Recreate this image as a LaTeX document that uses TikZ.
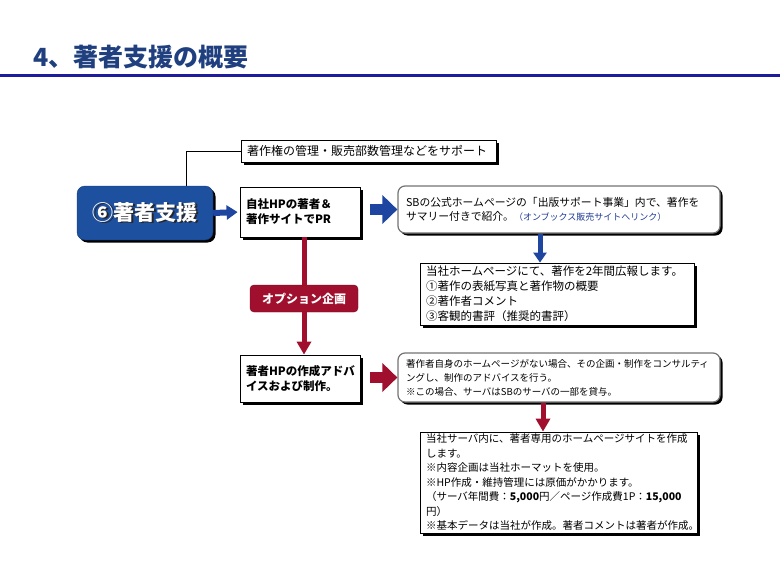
\documentclass[tikz,border=0pt]{standalone}
\usepackage{fontspec}
\setmainfont{Noto Sans CJK JP}
\usetikzlibrary{arrows.meta,shadows,calc}

\definecolor{titleblue}{HTML}{1F3F7F}
\definecolor{rulecolor}{HTML}{1C1C9C}
\definecolor{boxblue}{HTML}{1E50A0}
\definecolor{arrowblue}{HTML}{1E46A0}
\definecolor{darkred}{HTML}{A00F2D}
\definecolor{linkblue}{HTML}{1F3C96}

\newcommand\shadowed[1]{\rlap{\hspace{1.5pt}\raisebox{-1.5pt}{\color{black!85}#1}}#1}

\begin{document}
\begin{tikzpicture}
	[
		x = 1pt, y = -1pt,
		blackshadow/.style = {drop shadow = {fill=black, opacity=1, shadow xshift=2.5pt, shadow yshift=-2.5pt}},
		shadowbox/.style = {draw, line width=0.8pt, fill=white, blackshadow, align=left, inner xsep=6pt, inner ysep=0pt},
		roundbox/.style = {shadowbox, draw=black!55, line width=1.2pt, rounded corners=7pt, inner xsep=8pt},
		mainbox/.style = {draw=boxblue!70!black, fill=boxblue, rounded corners=8pt, blackshadow, text=white,
			minimum width=136pt, minimum height=54pt, font=\fontsize{21}{24}\selectfont\bfseries},
		optbox/.style = {draw=darkred!70!black, fill=darkred, rounded corners=4pt, text=white,
			minimum width=108pt, minimum height=27pt, font=\fontsize{12}{14}\selectfont\bfseries},
		leader/.style = {draw, line width=0.8pt},
		smallblue/.style = {draw=arrowblue, line width=6pt, -{Triangle[length=11pt,width=14pt]}, shorten >=2pt},
		bigblue/.style = {draw=arrowblue, line width=11pt, -{Triangle[length=15pt,width=28pt]}},
		downblue/.style = {draw=arrowblue, line width=5pt, -{Triangle[length=10pt,width=13pt]}},
		redline/.style = {draw=darkred, line width=5pt},
		bigred/.style = {bigblue, draw=darkred},
		downred/.style = {draw=darkred, line width=5pt, -{Triangle[length=13pt,width=14pt]}}
	]

	\useasboundingbox (0,0) rectangle (780,570);

	% heading
	\node[anchor=west, text=titleblue, font=\fontsize{25}{28}\selectfont\bfseries] (title) at (30,57) {4、著者支援の概要};
	\draw[rulecolor, line width=3pt] (0,75) -- (780,75);

	% upper row
	\node[shadowbox, text width=243pt, minimum height=22pt, font=\fontsize{12}{14}\selectfont] (support) at (368.5,151)
		{著作権の管理・販売部数管理などをサポート};
	\node[mainbox] (main) at (145,213) {\shadowed{⑥著者支援}};
	\node[shadowbox, text width=108pt, minimum height=50pt, font=\fontsize{11.5}{15}\selectfont\bfseries] (pr) at (300,212)
		{自社HPの著者＆\\著作サイトでPR};
	\node[roundbox, text width=306pt, minimum height=47pt, font=\fontsize{10.8}{14}\selectfont] (site) at (559,209.5)
		{SBの公式ホームページの「出版サポート事業」内で、著作を\\サマリー付きで紹介。{\color{linkblue}\fontsize{9}{14}\selectfont（オンブックス販売サイトへリンク）}};
	\node[shadowbox, text width=262pt, minimum height=62pt, font=\fontsize{11.5}{15}\selectfont] (promo) at (557,294)
		{当社ホームページにて、著作を2年間広報します。\\①著作の表紙写真と著作物の概要\\②著作者コメント\\③客観的書評（推奨的書評）};

	% option
	\node[optbox] (option) at (304,298.5) {オプション企画};

	% lower row
	\node[shadowbox, text width=108pt, minimum height=47pt, font=\fontsize{11.5}{15}\selectfont\bfseries] (hpmake) at (300,378.5)
		{著者HPの作成アドバ\\イスおよび制作。};
	\node[roundbox, text width=306pt, minimum height=49pt, font=\fontsize{9.5}{14}\selectfont] (consult) at (559,377.5)
		{著作者自身のホームページがない場合、その企画・制作をコンサルティ\\ングし、制作のアドバイスを行う。\\※この場合、サーバはSBのサーバの一部を貸与。};
	\node[shadowbox, text width=265pt, minimum height=101pt, font=\fontsize{10.5}{14.5}\selectfont] (server) at (558.5,482.5)
		{当社サーバ内に、著者専用のホームページサイトを作成\\します。\\※内容企画は当社ホーマットを使用。\\※HP作成・維持管理には原価がかかります。\\（サーバ年間費：\textbf{5,000}円／ページ作成費1P：\textbf{15,000}\\円）\\※基本データは当社が作成。著者コメントは著者が作成。};

	% connectors
	\draw[leader] (support.west) -| ([xshift=41pt]main.north);
	\draw[smallblue] (main.east) -- (pr.west);
	\draw[bigblue] ($(pr.east |- site.west)+(10,0)$) -- (site.west);
	\draw[downblue] ($(site.south)+(-19,0)$) coordinate (d1) -- (d1 |- promo.north);
	\draw[redline] (pr.south -| option.north) -- (option.north);
	\draw[downred] (option.south) -- (option.south |- hpmake.north);
	\draw[bigred] ($(hpmake.east |- consult.west)+(10,0)$) -- (consult.west);
	\draw[downred] ($(consult.south)+(-16,0)$) coordinate (d2) -- (d2 |- server.north);
\end{tikzpicture}
\end{document}
